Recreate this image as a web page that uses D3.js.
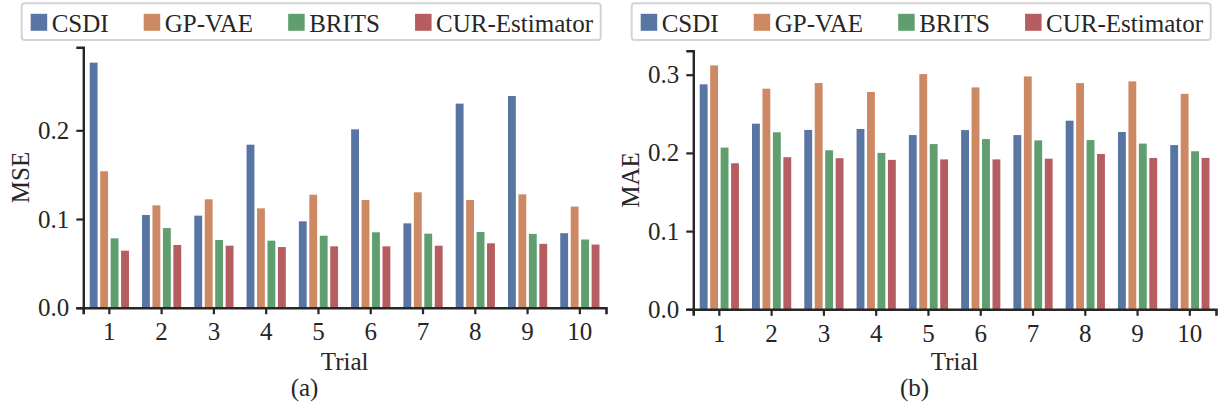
<!DOCTYPE html>
<html>
<head>
<meta charset="utf-8">
<script src="https://cdn.jsdelivr.net/npm/d3@7"></script>
<style>
  body { margin: 0; background: #fff; }
  svg { display: block; font-family: "Liberation Serif", "Times New Roman", serif; }
  .axis path, .axis line { stroke: #262626; }
  .axis text { fill: #262626; font-size: 25px; font-family: "Liberation Serif", serif; }
</style>
</head>
<body>
<div id="chart"></div>
<script>
// Data
var trials = ["1", "2", "3", "4", "5", "6", "7", "8", "9", "10"];
var methods = ["CSDI", "GP-VAE", "BRITS", "CUR-Estimator"];
var colors = ["#5975a4", "#cc8963", "#5f9e6e", "#b55d60"];

var mseCSDI  = [0.2763, 0.1045, 0.1038, 0.1838, 0.0974, 0.2011, 0.0951, 0.2301, 0.2387, 0.0840];
var mseGPVAE = [0.1538, 0.1154, 0.1222, 0.1120, 0.1274, 0.1214, 0.1301, 0.1214, 0.1278, 0.1140];
var mseBRITS = [0.0782, 0.0898, 0.0763, 0.0756, 0.0812, 0.0850, 0.0835, 0.0853, 0.0832, 0.0769];
var mseCUR   = [0.0643, 0.0707, 0.0699, 0.0684, 0.0692, 0.0692, 0.0699, 0.0726, 0.0720, 0.0712];

var maeCSDI  = [0.2877, 0.2374, 0.2294, 0.2306, 0.2228, 0.2292, 0.2228, 0.2412, 0.2267, 0.2100];
var maeGPVAE = [0.3119, 0.2821, 0.2894, 0.2779, 0.3008, 0.2838, 0.2978, 0.2893, 0.2915, 0.2755];
var maeBRITS = [0.2068, 0.2264, 0.2034, 0.2000, 0.2113, 0.2177, 0.2160, 0.2164, 0.2119, 0.2021];
var maeCUR   = [0.1868, 0.1945, 0.1932, 0.1911, 0.1917, 0.1917, 0.1926, 0.1986, 0.1936, 0.1936];

var mseTicks = [0, 0.1, 0.2];
var maeTicks = [0, 0.1, 0.2, 0.3];

var svg = d3.select("#chart").append("svg")
    .attr("width", 1219)
    .attr("height", 407);

function drawPanel(p) {
    var g = svg.append("g").attr("transform", "translate(" + p.dx + ",0)");

    // scales
    var x = d3.scaleBand().domain(trials)
        .range([83.2, 606]).paddingInner(0.2).paddingOuter(0.1);
    var xs = d3.scaleBand().domain(methods).range([0, x.bandwidth()]);
    var y = d3.scaleLinear().domain([0, p.ymax]).range([p.base, p.top]);

    // bars, one group per method
    p.series.forEach(function(vals, i) {
        g.append("g")
            .attr("fill", colors[i])
            .selectAll("rect")
            .data(vals)
            .join("rect")
            .attr("x", (d, j) => x(trials[j]) + xs(methods[i]) + 1.3)
            .attr("width", xs.bandwidth() - 2.6)
            .attr("y", d => y(d))
            .attr("height", d => y(0) - y(d));
    });

    // x axis
    var xa = g.append("g")
        .attr("class", "axis")
        .attr("transform", "translate(0," + p.base + ")")
        .call(d3.axisBottom(x).tickSizeOuter(0).tickSize(6.5).tickPadding(8));
    xa.select(".domain").attr("stroke-width", 2.6);
    xa.selectAll(".tick line").attr("stroke-width", 2.2);

    // y axis
    var ya = g.append("g")
        .attr("class", "axis")
        .attr("transform", "translate(83.3,0)")
        .call(d3.axisLeft(y).tickValues(p.ticks).tickFormat(d3.format(".1f"))
            .tickSizeOuter(0).tickSize(7).tickPadding(7));
    ya.select(".domain").attr("stroke-width", 2.4);
    ya.selectAll(".tick line").attr("stroke-width", 2.2);

    // axis labels
    g.append("text")
        .attr("transform", "translate(28.5," + ((p.base + p.top) / 2) + ") rotate(-90)")
        .style("text-anchor", "middle")
        .attr("font-size", 25)
        .attr("fill", "#262626")
        .text(p.ylabel);

    g.append("text")
        .attr("x", 344.6)
        .attr("y", 370)
        .style("text-anchor", "middle")
        .attr("font-size", 25)
        .attr("fill", "#262626")
        .text("Trial");

    g.append("text")
        .attr("x", 304.5)
        .attr("y", 395.5)
        .style("text-anchor", "middle")
        .attr("font-size", 25)
        .attr("fill", "#262626")
        .text(p.caption);

    // legend
    var lg = g.append("g");
    lg.append("rect")
        .attr("x", 21.7).attr("y", 3.3)
        .attr("width", 579).attr("height", 36.7)
        .attr("rx", 3)
        .attr("fill", "#fff")
        .attr("stroke", "#d4d4d4")
        .attr("stroke-width", 2);

    var items = lg.selectAll("g.item")
        .data(methods)
        .join("g")
        .attr("class", "item");
    items.append("rect")
        .attr("width", 16.5).attr("height", 17)
        .attr("y", 13.8)
        .attr("fill", (d, i) => colors[i]);
    items.append("text")
        .attr("x", 21)
        .attr("y", 31.5)
        .attr("font-size", 25)
        .attr("fill", "#262626")
        .text(d => d);

    // spread the entries evenly across the box
    var widths = [];
    items.selectAll("text").each(function() { widths.push(this.getComputedTextLength() + 21); });
    var start = 30.7, end = 593;
    var gap = (end - start - d3.sum(widths)) / (methods.length - 1);
    var pos = start;
    items.attr("transform", function(d, i) {
        var t = "translate(" + pos + ",0)";
        pos += widths[i] + gap;
        return t;
    });
}

drawPanel({
    dx: 0, base: 307.7, top: 47.3, ymax: 0.2936, ticks: mseTicks,
    ylabel: "MSE", caption: "(a)",
    series: [mseCSDI, mseGPVAE, mseBRITS, mseCUR]
});

drawPanel({
    dx: 610, base: 309.3, top: 50.7, ymax: 0.3307, ticks: maeTicks,
    ylabel: "MAE", caption: "(b)",
    series: [maeCSDI, maeGPVAE, maeBRITS, maeCUR]
});
</script>
</body>
</html>
